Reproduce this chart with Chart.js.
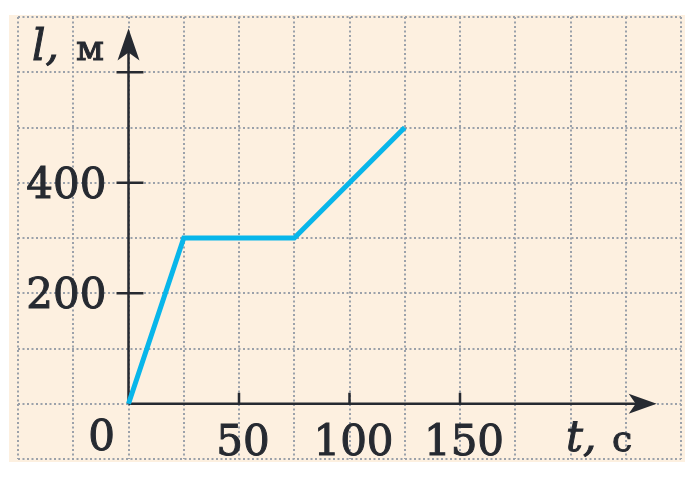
<!DOCTYPE html>
<html>
<head>
<meta charset="utf-8">
<script src="https://cdn.jsdelivr.net/npm/chart.js@4"></script>
<style>
  html, body { margin: 0; padding: 0; background: #ffffff; }
  #wrap { width: 700px; height: 477px; }
</style>
</head>
<body>
<div id="wrap"><canvas id="chart" width="700" height="477"></canvas></div>
<script>
// время, с  /  путь, м
const timeValues = [0, 25, 75, 125];
const distanceValues = [0, 300, 300, 500];
const xTickLabels = [50, 100, 150];
const yTickLabels = [200, 400];
const yTickMarks = [200, 400, 600];

const serif = '"DejaVu Serif", "Liberation Serif", serif';
const axisColor = '#262a31';

function heavyText(ctx, text, px, py) {
  ctx.fillText(text, px, py);
  ctx.strokeText(text, px, py);
}

const axesPlugin = {
  id: 'axes',
  beforeDraw(chart) {
    const { ctx, chartArea } = chart;
    ctx.save();
    ctx.fillStyle = '#fdf0e0';
    ctx.fillRect(chartArea.left - 9, chartArea.top - 2,
      chartArea.right - chartArea.left + 13, chartArea.bottom - chartArea.top + 5);
    ctx.restore();
  },
  beforeDatasetsDraw(chart) {
    const { ctx, scales } = chart;
    const x = scales.x, y = scales.y;
    const x0 = x.getPixelForValue(0);
    const y0 = y.getPixelForValue(0);

    ctx.save();
    ctx.strokeStyle = axisColor;
    ctx.fillStyle = axisColor;
    ctx.lineWidth = 2.5;

    // y axis
    const yTip = y.getPixelForValue(679);
    ctx.beginPath();
    ctx.moveTo(x0, y0);
    ctx.lineTo(x0, yTip + 10);
    ctx.stroke();
    ctx.beginPath();
    ctx.moveTo(x0, yTip);
    ctx.lineTo(x0 - 11, yTip + 32);
    ctx.lineTo(x0, yTip + 24);
    ctx.lineTo(x0 + 11, yTip + 32);
    ctx.closePath();
    ctx.fill();

    // x axis
    const xTip = x.getPixelForValue(239);
    ctx.beginPath();
    ctx.moveTo(x0, y0);
    ctx.lineTo(xTip - 10, y0);
    ctx.stroke();
    ctx.beginPath();
    ctx.moveTo(xTip, y0);
    ctx.lineTo(xTip - 28, y0 - 10);
    ctx.lineTo(xTip - 21, y0);
    ctx.lineTo(xTip - 28, y0 + 10);
    ctx.closePath();
    ctx.fill();

    // tick marks
    yTickMarks.forEach(v => {
      const py = y.getPixelForValue(v);
      ctx.beginPath();
      ctx.moveTo(x0 - 12, py);
      ctx.lineTo(x0 + 15, py);
      ctx.stroke();
    });
    xTickLabels.forEach(v => {
      const px = x.getPixelForValue(v);
      ctx.beginPath();
      ctx.moveTo(px, y0 - 11);
      ctx.lineTo(px, y0 + 1);
      ctx.stroke();
    });

    // tick labels
    ctx.lineWidth = 1;
    ctx.font = '42px ' + serif;
    ctx.textBaseline = 'alphabetic';
    ctx.textAlign = 'right';
    yTickLabels.forEach(v => {
      heavyText(ctx, String(v), x0 - 22, y.getPixelForValue(v) + 15);
    });
    ctx.textAlign = 'center';
    xTickLabels.forEach(v => {
      heavyText(ctx, String(v), x.getPixelForValue(v) + 4, y0 + 51);
    });
    heavyText(ctx, '0', x0 - 27, y0 + 46);

    // axis titles
    ctx.textAlign = 'left';
    ctx.font = 'italic 42px ' + serif;
    heavyText(ctx, 't,', 566, 451);
    heavyText(ctx, 'l,', 32, 60);
    ctx.font = '36px ' + serif;
    heavyText(ctx, 'с', 612, 451);
    heavyText(ctx, 'м', 76, 60);
    ctx.restore();
  }
};

new Chart(document.getElementById('chart'), {
  type: 'line',
  data: {
    datasets: [{
      data: timeValues.map((t, i) => ({ x: t, y: distanceValues[i] })),
      borderColor: '#08b6ea',
      borderWidth: 5,
      borderJoinStyle: 'miter',
      pointRadius: 0,
      tension: 0,
      fill: false
    }]
  },
  options: {
    responsive: false,
    animation: false,
    devicePixelRatio: 1,
    layout: { padding: { left: 18, right: 19, top: 17, bottom: 18 } },
    plugins: { legend: { display: false }, tooltip: { enabled: false } },
    scales: {
      x: {
        type: 'linear',
        min: -50,
        max: 250,
        ticks: { display: false, stepSize: 25 },
        border: { display: false, dash: [2, 2.5] },
        grid: { color: '#9ba1aa', lineWidth: 2, drawTicks: false }
      },
      y: {
        type: 'linear',
        min: -100,
        max: 700,
        ticks: { display: false, stepSize: 100 },
        border: { display: false, dash: [2, 2.5] },
        grid: { color: '#9ba1aa', lineWidth: 2, drawTicks: false }
      }
    }
  },
  plugins: [axesPlugin]
});
</script>
</body>
</html>
